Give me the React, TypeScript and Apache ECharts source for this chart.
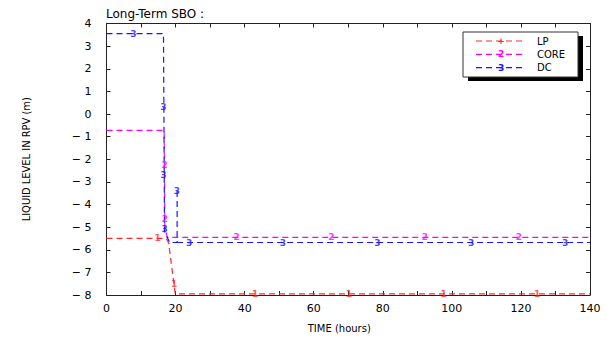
import React, { useEffect, useRef } from "react";
import * as echarts from "echarts";

// ---- data ----
const lpX = [0, 17.3, 18.0, 19.9, 140];
const lpY = [-5.5, -5.5, -5.7, -7.95, -7.95];
const coreX = [0, 16.7, 16.9, 17.6, 140];
const coreY = [-0.72, -0.72, -5.0, -5.45, -5.45];
// null breaks the line so the short spike at ~20.4 h is not drawn twice
const dcX = [0, 16.5, 16.8, 18.3, 20.45, 20.45, null, 20.45, 140];
const dcY = [3.55, 3.55, -5.2, -5.68, -5.68, -3.4, null, -5.68, -5.68];

const lpMarkX = [14.8, 19.6, 43, 70.2, 97.6, 124.7];
const lpMarkY = [-5.5, -7.5, -7.95, -7.95, -7.95, -7.95];
const coreMarkX = [16.8, 16.9, 37.7, 65.1, 92.2, 119.4];
const coreMarkY = [-2.25, -4.65, -5.45, -5.45, -5.45, -5.45];
const dcMarkX = [7.8, 16.5, 16.5, 16.8, 20.4, 23.9, 51.1, 78.4, 105.6, 132.8];
const dcMarkY = [3.55, 0.3, -2.7, -5.1, -3.4, -5.68, -5.68, -5.68, -5.68, -5.68];

const seriesNames = ["LP", "CORE", "DC"];
const seriesColors = ["#ff2a2a", "#ff00ff", "#1414ff"];
const plotMarks = ["1", "2", "3"];
const legendMarks = ["+", "2", "3"];

const titleText = "Long-Term SBO :";
const xName = "TIME (hours)";
const yName = "LIQUID LEVEL IN RPV (m)";

const zip = (xs: (number | null)[], ys: (number | null)[]) =>
  xs.map((x, i) => (x === null || ys[i] === null ? [null, null] : [x, ys[i]]));

export default function App() {
  const ref = useRef<HTMLDivElement>(null);
  useEffect(() => {
    if (!ref.current) return;
    const chart = echarts.init(ref.current, null, { renderer: "svg" });
    const lines = [zip(lpX, lpY), zip(coreX, coreY), zip(dcX, dcY)];
    const marks = [zip(lpMarkX, lpMarkY), zip(coreMarkX, coreMarkY), zip(dcMarkX, dcMarkY)];
    const font = "'DejaVu Sans', sans-serif";

    const series: any[] = [];
    lines.forEach((d, i) => {
      series.push({
        type: "line",
        name: seriesNames[i],
        data: d.map((p) => (p[0] === null ? "-" : p)),
        symbol: "none",
        connectNulls: false,
        lineStyle: { color: seriesColors[i], width: 1.2, type: [6, 4] },
        z: 3,
      });
    });
    marks.forEach((d, i) => {
      series.push({
        type: "scatter",
        data: d,
        symbolSize: 1,
        itemStyle: { color: "rgba(0,0,0,0)" },
        label: {
          show: true,
          position: "inside",
          formatter: plotMarks[i],
          color: seriesColors[i],
          fontSize: 9,
          fontWeight: "bold",
          fontFamily: font,
        },
        labelLayout: { hideOverlap: false },
        z: 4,
      });
    });

    const legendG: any[] = [];
    const lx = 463, ly = 32, lw = 115, lh = 45;
    legendG.push({ type: "rect", shape: { x: lx + 5, y: ly + 4, width: lw, height: lh }, style: { fill: "#000" }, z: 10 });
    legendG.push({ type: "rect", shape: { x: lx, y: ly, width: lw, height: lh }, style: { fill: "#fff", stroke: "#333", lineWidth: 1 }, z: 11 });
    seriesNames.forEach((n, i) => {
      const y = 41 + i * 13.3;
      legendG.push({ type: "line", shape: { x1: 476, y1: y, x2: 525, y2: y }, style: { stroke: seriesColors[i], lineWidth: 1.2, lineDash: [6, 4] }, z: 12 });
      legendG.push({ type: "text", x: 501, y, style: { text: legendMarks[i], fill: seriesColors[i], font: "bold 9px 'DejaVu Sans'", align: "center", verticalAlign: "middle" }, z: 13 });
      legendG.push({ type: "text", x: 537, y, style: { text: n, fill: "#000", font: "10px 'DejaVu Sans'", align: "left", verticalAlign: "middle" }, z: 13 });
    });

    const axisLine = { show: true, onZero: false, lineStyle: { color: "#222", width: 1 } };
    const axisTick = { show: true, inside: true, length: 4, lineStyle: { color: "#222" } };

    chart.setOption({
      animation: false,
      backgroundColor: "#fff",
      grid: { left: 106.5, right: 24, top: 23.5, bottom: 42.5, containLabel: false },
      title: {
        text: titleText,
        left: 106,
        top: 8,
        padding: 0,
        textStyle: { fontSize: 12, fontWeight: "normal", color: "#000", fontFamily: font },
      },
      xAxis: [
        {
          type: "value",
          min: 0,
          max: 140,
          interval: 10,
          position: "bottom",
          axisLine,
          axisTick,
          splitLine: { show: false },
          axisLabel: {
            formatter: (v: number) => (v % 20 === 0 ? String(v) : ""),
            color: "#000",
            fontSize: 11,
            margin: 8,
            fontFamily: font,
          },
          name: xName,
          nameLocation: "middle",
          nameGap: 28,
          nameTextStyle: { fontSize: 10, color: "#000", fontFamily: font, padding: [0, 18, 0, 0] },
        },
        {
          type: "value",
          min: 0,
          max: 140,
          interval: 10,
          position: "top",
          axisLine,
          axisTick,
          splitLine: { show: false },
          axisLabel: { show: false },
        },
      ],
      yAxis: [
        {
          type: "value",
          min: -8,
          max: 4,
          interval: 1,
          position: "left",
          axisLine,
          axisTick,
          splitLine: { show: false },
          axisLabel: {
            formatter: (v: number) => (v < 0 ? "\u2212 " + Math.abs(v) : String(v)),
            color: "#000",
            fontSize: 11,
            margin: 15,
            fontFamily: font,
          },
          name: yName,
          nameLocation: "middle",
          nameGap: 75,
          nameRotate: 90,
          nameTextStyle: {
            fontSize: 11,
            color: "#000",
            fontFamily: "'Liberation Sans Narrow', 'DejaVu Sans Condensed', sans-serif",
          },
        },
        {
          type: "value",
          min: -8,
          max: 4,
          interval: 1,
          position: "right",
          axisLine,
          axisTick,
          splitLine: { show: false },
          axisLabel: { show: false },
        },
      ],
      series,
      graphic: legendG,
    });
    return () => chart.dispose();
  }, []);
  return <div ref={ref} style={{ position: "fixed", left: 0, top: 0, width: 614, height: 338 }} />;
}
